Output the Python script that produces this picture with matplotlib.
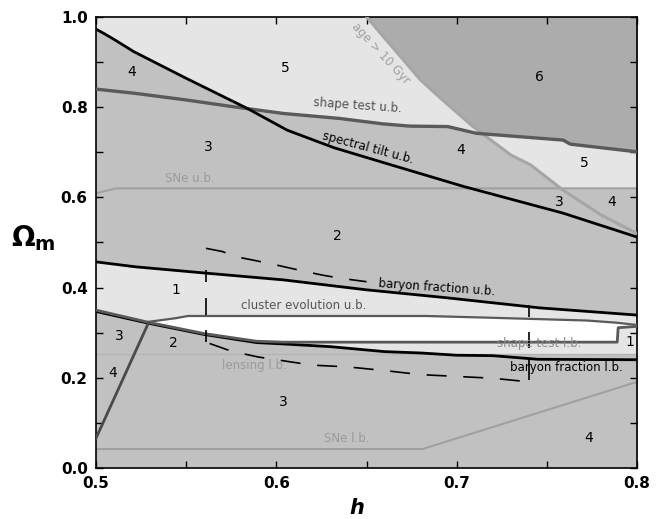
import numpy as np
import matplotlib
matplotlib.use("Agg")
import matplotlib.pyplot as plt
from matplotlib.colors import ListedColormap, BoundaryNorm

# ---------------- data: constraint boundaries (h, Omega_m) ----------------
age_h = [0.650, 0.680, 0.691, 0.709, 0.730, 0.741, 0.759, 0.780, 0.800]
age_om = [1.000, 0.860, 0.820, 0.757, 0.694, 0.672, 0.616, 0.561, 0.520]

shape_ub_h = [0.500, 0.521, 0.550, 0.576, 0.604, 0.635, 0.659, 0.674, 0.695, 0.711, 0.759, 0.763, 0.800]
shape_ub_om = [0.840, 0.831, 0.816, 0.801, 0.786, 0.775, 0.763, 0.758, 0.757, 0.742, 0.727, 0.718, 0.701]

tilt_h = [0.500, 0.505, 0.5105, 0.521, 0.550, 0.584, 0.606, 0.632, 0.667, 0.704, 0.759, 0.800]
tilt_om = [0.973, 0.962, 0.949, 0.923, 0.864, 0.797, 0.749, 0.710, 0.668, 0.624, 0.565, 0.512]

sne_ub_h = [0.500, 0.511, 0.800]
sne_ub_om = [0.609, 0.620, 0.620]

bary_ub_h = [0.500, 0.522, 0.561, 0.604, 0.650, 0.693, 0.746, 0.800]
bary_ub_om = [0.457, 0.446, 0.432, 0.417, 0.395, 0.378, 0.355, 0.339]

clus_ub_h = [0.529, 0.544, 0.551, 0.683, 0.720, 0.772, 0.789, 0.800]
clus_ub_om = [0.324, 0.332, 0.337, 0.337, 0.333, 0.327, 0.322, 0.317]

shape_lb_h = [0.500, 0.529, 0.560, 0.589, 0.604, 0.650, 0.789, 0.7895, 0.800]
shape_lb_om = [0.350, 0.323, 0.298, 0.281, 0.279, 0.279, 0.279, 0.311, 0.314]

bary_lb_h = [0.500, 0.529, 0.560, 0.589, 0.604, 0.630, 0.660, 0.680, 0.700, 0.720, 0.745, 0.800]
bary_lb_om = [0.347, 0.321, 0.296, 0.278, 0.275, 0.269, 0.258, 0.255, 0.250, 0.249, 0.241, 0.240]

lens_h = [0.500, 0.800]
lens_om = [0.253, 0.253]

sne_lb_h = [0.500, 0.681, 0.800]
sne_lb_om = [0.042, 0.042, 0.191]

diag_h = [0.500, 0.529]
diag_om = [0.066, 0.321]

dash_hi_h = [0.561, 0.570, 0.578, 0.587, 0.600, 0.610, 0.625, 0.635, 0.650]
dash_hi_om = [0.487, 0.480, 0.468, 0.461, 0.450, 0.441, 0.428, 0.421, 0.413]
dash_lo_h = [0.563, 0.575, 0.590, 0.620, 0.640, 0.660, 0.680, 0.700, 0.720, 0.735]
dash_lo_om = [0.276, 0.259, 0.246, 0.228, 0.224, 0.216, 0.207, 0.203, 0.199, 0.193]

# vertical markers: (h, Omega_low, Omega_high)
vmark_h = [0.561, 0.561, 0.561, 0.740, 0.740, 0.740]
vmark_lo = [0.413, 0.339, 0.280, 0.335, 0.265, 0.195]
vmark_hi = [0.439, 0.376, 0.306, 0.361, 0.302, 0.240]

# region count labels
num_text = ["4", "5", "6", "3", "4", "5", "3", "4", "2", "1", "3", "2", "4", "3", "4", "1"]
num_h = [0.520, 0.605, 0.746, 0.562, 0.702, 0.771, 0.757, 0.786, 0.634, 0.544, 0.513, 0.543, 0.509, 0.604, 0.773, 0.796]
num_om = [0.879, 0.886, 0.866, 0.712, 0.704, 0.676, 0.590, 0.590, 0.514, 0.395, 0.293, 0.278, 0.210, 0.147, 0.066, 0.280]

# ---------------- count violated constraints on a grid ----------------
H = np.linspace(0.5, 0.8, 1400)
OM = np.linspace(0.0, 1.0, 2000)
HH, OO = np.meshgrid(H, OM)

def curve(hx, ox):
    return np.interp(HH, hx, ox)

age_c = np.interp(HH, [0.5] + age_h[:1] + age_h, [1.5, 1.5] + age_om)
count = np.zeros_like(HH, dtype=int)
count += (OO > age_c)
count += (OO > curve(shape_ub_h, shape_ub_om))
count += (OO > curve(tilt_h, tilt_om))
count += (OO > curve(sne_ub_h, sne_ub_om))
count += (OO > curve(bary_ub_h, bary_ub_om))
count += (OO > curve(clus_ub_h, clus_ub_om))
count += (OO < curve(shape_lb_h, shape_lb_om))
count += (OO < curve(bary_lb_h, bary_lb_om))
count += (OO < curve(lens_h, lens_om))
count += (OO < curve(sne_lb_h, sne_lb_om))
diag_hc = np.interp(OO, diag_om, diag_h)
count += ((OO >= diag_om[0]) & (OO <= diag_om[1]) & (HH < diag_hc))

shades = ["#ffffff", "#e5e5e5", "#c1c1c1", "#c1c1c1", "#c1c1c1", "#e5e5e5", "#acacac"]
cmap = ListedColormap(shades)
norm = BoundaryNorm(np.arange(-0.5, 7.5, 1), cmap.N)

# ---------------- figure ----------------
fig = plt.figure(figsize=(6.65, 5.19), dpi=100)
ax = fig.add_axes([0.1444, 0.0983, 0.8136, 0.8690])
ax.imshow(count, origin="lower", extent=[0.5, 0.8, 0.0, 1.0], aspect="auto",
          cmap=cmap, norm=norm, interpolation="nearest", zorder=0)

ax.plot(sne_ub_h, sne_ub_om, color="#a0a0a0", lw=1.5, zorder=2)
ax.plot(sne_lb_h, sne_lb_om, color="#a0a0a0", lw=1.5, zorder=2)
ax.plot(lens_h, lens_om, color="#b4b4b4", lw=1.0, zorder=2)
ax.plot(age_h, age_om, color="#a6a6a6", lw=2.2, zorder=3)
ax.plot(shape_ub_h, shape_ub_om, color="#5a5a5a", lw=2.4, zorder=3)
ax.plot(tilt_h, tilt_om, color="black", lw=2.0, zorder=4)
ax.plot(bary_ub_h, bary_ub_om, color="black", lw=2.0, zorder=4)
ax.plot(bary_lb_h, bary_lb_om, color="black", lw=2.0, zorder=3)
ax.plot(shape_lb_h, shape_lb_om, color="#5a5a5a", lw=2.0, zorder=4)
ax.plot(clus_ub_h, clus_ub_om, color="#5a5a5a", lw=1.6, zorder=4)
ax.plot(diag_h, diag_om, color="#4a4a4a", lw=2.0, zorder=4)
ax.plot(dash_hi_h, dash_hi_om, color="black", lw=1.2, ls=(0, (12, 10)), zorder=4)
ax.plot(dash_lo_h, dash_lo_om, color="black", lw=1.2, ls=(0, (12, 10)), zorder=4)
ax.vlines(vmark_h, vmark_lo, vmark_hi, color="black", lw=1.2, zorder=4)

for t, x, y in zip(num_text, num_h, num_om):
    ax.text(x, y, t, ha="center", va="center", fontsize=10, color="black", zorder=6)

lab_kw = dict(ha="center", va="center", fontsize=8.5, zorder=6)
ax.text(0.658, 0.918, "age > 10 Gyr", color="#a0a0a0", rotation=-47, **lab_kw)
ax.text(0.645, 0.804, "shape test u.b.", color="#505050", rotation=-4, **lab_kw)
ax.text(0.651, 0.709, "spectral tilt u.b.", color="black", rotation=-15, **lab_kw)
ax.text(0.552, 0.642, "SNe u.b.", color="#9a9a9a", **lab_kw)
ax.text(0.689, 0.401, "baryon fraction u.b.", color="black", rotation=-4, **lab_kw)
ax.text(0.615, 0.361, "cluster evolution u.b.", color="#555555", **lab_kw)
ax.text(0.746, 0.277, "shape test l.b.", color="#8a8a8a", **lab_kw)
ax.text(0.761, 0.222, "baryon fraction l.b.", color="black", **lab_kw)
ax.text(0.588, 0.228, "lensing l.b.", color="#9a9a9a", **lab_kw)
ax.text(0.639, 0.066, "SNe l.b.", color="#9a9a9a", **lab_kw)

ax.set_xlim(0.5, 0.8)
ax.set_ylim(0.0, 1.0)
ax.set_xticks([0.5, 0.6, 0.7, 0.8])
ax.set_xticks([0.55, 0.65, 0.75], minor=True)
ax.set_yticks([0.0, 0.2, 0.4, 0.6, 0.8, 1.0])
ax.set_yticks([0.1, 0.3, 0.5, 0.7, 0.9], minor=True)
ax.set_xticklabels(["0.5", "0.6", "0.7", "0.8"])
ax.set_yticklabels(["0.0", "0.2", "0.4", "0.6", "0.8", "1.0"])
ax.tick_params(which="both", direction="in", top=True, right=True, length=5, width=1.0,
               labelsize=11, pad=6)
for lbl in ax.get_xticklabels() + ax.get_yticklabels():
    lbl.set_fontweight("bold")
for sp in ax.spines.values():
    sp.set_linewidth(1.2)

fig.text(33 / 665, 1 - 238 / 519, r"$\mathbf{\Omega_{m}}$", fontsize=20, ha="center", va="center")
fig.text(357 / 665, 1 - 508 / 519, "h", fontsize=15, style="italic", fontweight="bold",
         ha="center", va="center")

fig.savefig("out.png", dpi=100)
